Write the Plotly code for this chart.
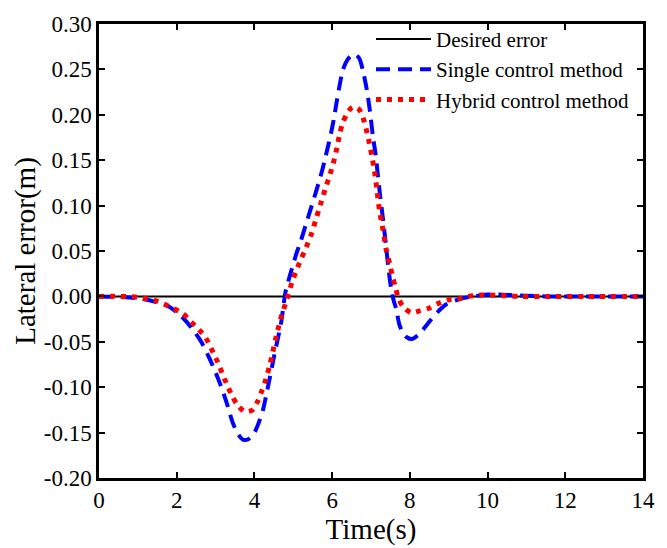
import plotly.graph_objects as go

# Desired error
t_desired = [0, 14]
v_desired = [0, 0]

# Single control method
t_single = [0, 0.5, 1.0, 1.45, 1.75, 2.1, 2.37, 2.63, 2.84, 3.06, 3.27, 3.45, 3.6, 3.72, 3.85,
            4.0, 4.12, 4.22, 4.38, 4.51, 4.69, 4.8, 4.92, 5.08, 5.2, 5.33, 5.46, 5.59, 5.72, 5.82,
            5.92, 6.02, 6.1, 6.19, 6.28, 6.4, 6.52, 6.6, 6.7, 6.79, 6.89, 6.97, 7.05, 7.12, 7.18,
            7.24, 7.3, 7.36, 7.41, 7.46, 7.52, 7.58, 7.65, 7.73, 7.82, 7.92, 8.05, 8.2, 8.35, 8.5,
            8.72, 8.93, 9.28, 9.62, 10.0, 10.3, 10.8, 11.5, 12.5, 14]
v_single = [0, -0.0005, -0.002, -0.006, -0.010, -0.021, -0.034, -0.050, -0.068, -0.090,
            -0.115, -0.140, -0.153, -0.158, -0.157, -0.150, -0.138, -0.125, -0.093, -0.065,
            -0.028, 0.005, 0.024, 0.047, 0.062, 0.080, 0.098, 0.116, 0.135, 0.152,
            0.170, 0.190, 0.210, 0.232, 0.250, 0.261, 0.266, 0.266, 0.262, 0.249,
            0.228, 0.205, 0.176, 0.156, 0.132, 0.109, 0.088, 0.066, 0.046, 0.027,
            0.008, -0.004, -0.014, -0.031, -0.040, -0.045, -0.047, -0.043, -0.036, -0.028,
            -0.017, -0.009, -0.003, 0.000, 0.002, 0.002, 0.001, 0.0, 0.0, 0.0]

# Hybrid control method
t_hybrid = [0, 0.5, 1.0, 1.47, 1.9, 2.16, 2.37, 2.58, 2.75, 2.94, 3.06, 3.23, 3.42, 3.57, 3.76,
            3.95, 4.09, 4.19, 4.28, 4.4, 4.55, 4.7, 4.86, 4.97, 5.16, 5.33, 5.46, 5.59, 5.72, 5.85,
            5.95, 6.05, 6.12, 6.2, 6.28, 6.38, 6.48, 6.58, 6.67, 6.75, 6.83, 6.9, 6.96, 7.02, 7.09,
            7.15, 7.22, 7.31, 7.39, 7.48, 7.56, 7.63, 7.7, 7.82, 8.03, 8.25, 8.49, 8.72, 8.97, 9.23,
            9.51, 9.8, 10.05, 10.35, 10.8, 11.5, 12.5, 14]
v_hybrid = [0, 0, -0.001, -0.005, -0.013, -0.019, -0.028, -0.037, -0.046, -0.062,
            -0.073, -0.091, -0.109, -0.120, -0.127, -0.125, -0.115, -0.104, -0.093, -0.075,
            -0.046, -0.021, 0.000, 0.016, 0.037, 0.054, 0.068, 0.086, 0.104, 0.122,
            0.135, 0.150, 0.163, 0.180, 0.192, 0.201, 0.207, 0.209, 0.207, 0.202,
            0.192, 0.180, 0.168, 0.155, 0.138, 0.118, 0.094, 0.073, 0.052, 0.036,
            0.021, 0.010, -0.001, -0.011, -0.018, -0.016, -0.013, -0.008, -0.004, -0.003,
            0.000, 0.0015, 0.0016, 0.001, 0.0, 0.0, 0.0, 0.0]

x_ticks = [0, 2, 4, 6, 8, 10, 12, 14]
y_ticks = [-0.20, -0.15, -0.10, -0.05, 0.00, 0.05, 0.10, 0.15, 0.20, 0.25, 0.30]

FONT = "Liberation Serif"

fig = go.Figure()
fig.add_trace(go.Scatter(x=t_desired, y=v_desired, mode="lines", name="Desired error",
                         line=dict(color="black", width=2)))
fig.add_trace(go.Scatter(x=t_single, y=v_single, mode="lines", name="Single control method",
                         line=dict(color="#0000ff", width=4, dash="14px,8px",
                                   shape="spline", smoothing=0.8)))
fig.add_trace(go.Scatter(x=t_hybrid, y=v_hybrid, mode="lines", name="Hybrid control method",
                         line=dict(color="#ff0000", width=5, dash="5px,6px",
                                   shape="spline", smoothing=0.8)))

axis_common = dict(
    showline=True, linecolor="black", linewidth=2.5, mirror="ticks",
    ticks="inside", ticklen=6, tickwidth=2, tickcolor="black",
    showgrid=False, zeroline=False,
    tickfont=dict(family=FONT, size=23, color="black"),
)

fig.update_xaxes(range=[0, 14], tickvals=x_ticks, ticktext=[str(v) for v in x_ticks],
                 title=dict(text="Time(s)", font=dict(family=FONT, size=29, color="black"),
                            standoff=2),
                 **axis_common)
fig.update_yaxes(range=[-0.20, 0.30], tickvals=y_ticks,
                 ticktext=[f"{v:.2f}" for v in y_ticks],
                 title=dict(text="Lateral error(m)", font=dict(family=FONT, size=29, color="black"),
                            standoff=0),
                 **axis_common)

fig.update_layout(
    width=667, height=548,
    margin=dict(l=99, r=24, t=19, b=65),
    paper_bgcolor="white", plot_bgcolor="white",
    showlegend=True,
    legend=dict(x=0.5, y=1.0115, xanchor="left", yanchor="top",
                bgcolor="rgba(0,0,0,0)", borderwidth=0,
                font=dict(family=FONT, size=21, color="black"),
                itemwidth=55, tracegroupgap=0),
)

fig.write_html("out.html")
